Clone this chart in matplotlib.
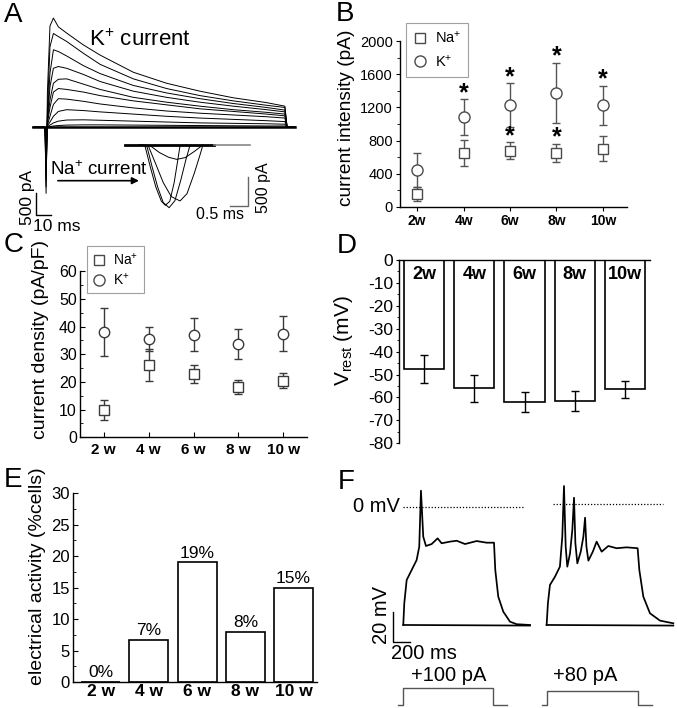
import matplotlib
matplotlib.use('Agg')
import matplotlib.pyplot as plt
import numpy as np
from matplotlib.lines import Line2D
from matplotlib.ticker import MultipleLocator

plt.rcParams['font.family'] = ['Liberation Sans', 'DejaVu Sans']
plt.rcParams['mathtext.fontset'] = 'custom'
plt.rcParams['mathtext.rm'] = 'Liberation Sans'
plt.rcParams['mathtext.it'] = 'Liberation Sans:italic'
plt.rcParams['mathtext.bf'] = 'Liberation Sans:bold'
plt.rcParams['axes.unicode_minus'] = False
plt.rcParams['axes.linewidth'] = 1.0

W, H = 677, 708

# ---------------- data ----------------
weeks = ['2w', '4w', '6w', '8w', '10w']
weeks_sp = ['2 w', '4 w', '6 w', '8 w', '10 w']

# B: current intensity (pA)
na_int = [150, 650, 677, 650, 702]
na_int_err = [85, 160, 100, 110, 155]
k_int = [443, 1085, 1230, 1375, 1225]
k_int_err = [210, 215, 263, 363, 240]
na_int_sig = [False, False, True, True, False]
k_int_sig = [False, True, True, True, True]

# C: current density (pA/pF)
na_dens = [9.9, 26.1, 23.0, 18.1, 20.5]
na_dens_err = [3.6, 5.9, 3.3, 2.6, 2.6]
k_dens = [38.0, 35.4, 37.1, 33.6, 37.5]
k_dens_err = [8.6, 4.3, 5.9, 5.4, 6.4]

# D: resting potential (mV)
vrest = [-47.5, -56.0, -62.0, -61.5, -56.5]
vrest_err = [6.0, 6.0, 4.5, 4.5, 3.7]

# E: electrical activity (% cells)
active_pct = [0, 6.7, 19, 8, 15]
active_lbl = ['0%', '7%', '19%', '8%', '15%']

# A: K+ current family (ms, pA)
k_t = [-7.8, 0, 0.7, 1.6, 3.3, 5.6, 8.9, 14.4, 25.6, 36.7, 58.9, 81.1,
       103.3, 125.6, 147.8, 160.0, 161.5, 166.7]
k_traces = [
    [0, 0, -1500, 800, 2300, 2480, 2280, 2140, 1870, 1640, 1250, 1000, 820, 670, 560, 480, 0, 0],
    [0, 0, -1350, 390, 1830, 2130, 2060, 1950, 1680, 1430, 1100, 880, 720, 600, 500, 450, 0, 0],
    [0, 0, -1200, 240, 1230, 1760, 1720, 1620, 1400, 1220, 950, 780, 650, 540, 450, 390, 0, 0],
    [0, 0, -1045, 170, 920, 1340, 1380, 1340, 1200, 1040, 820, 680, 570, 480, 400, 350, 0, 0],
    [0, 0, -890, 130, 620, 1000, 1090, 1100, 980, 860, 680, 570, 480, 400, 340, 300, 0, 0],
    [0, 0, -670, 90, 450, 800, 880, 860, 800, 720, 600, 510, 420, 360, 300, 260, 0, 0],
    [0, 0, -440, 50, 250, 520, 650, 640, 590, 530, 440, 370, 320, 280, 240, 210, 0, 0],
    [0, 0, -290, 30, 120, 250, 360, 400, 380, 350, 300, 250, 210, 180, 150, 130, 0, 0],
    [0, 0, -140, 15, 50, 100, 140, 165, 170, 160, 140, 120, 100, 90, 80, 70, 0, 0],
    [0, 0, -80, 5, 15, 30, 40, 50, 55, 55, 50, 45, 40, 35, 30, 30, 0, 0],
]

# A inset: Na+ currents (ms, pA)
na_tr_t = [
    [-0.14, 0, 0.15, 0.3, 0.45, 0.56, 0.68, 0.8, 0.9, 0.96, 1.14],
    [-0.14, 0.05, 0.2, 0.35, 0.5, 0.66, 0.82, 0.98, 1.12, 1.23],
    [-0.14, 0.09, 0.3, 0.5, 0.72, 0.96, 1.15, 1.35, 1.5, 1.58],
    [-0.14, 0.14, 0.4, 0.65, 0.87, 1.1, 1.35, 1.58],
]
na_tr_i = [
    [0, -10, -380, -720, -960, -1030, -960, -640, -250, -10, 0],
    [0, -10, -380, -720, -980, -1070, -950, -600, -250, -10],
    [0, -10, -330, -640, -880, -955, -830, -480, -180, -10],
    [0, -10, -130, -210, -245, -215, -110, 0],
]

# F: firing traces (ms from step onset, mV)
ap1_t = [0, 12, 40, 99, 157, 188, 208, 235, 267, 334, 404, 451, 549, 628, 726,
         863, 980, 1067, 1082, 1117, 1176, 1255, 1334, 1490]
ap1_v = [-78.9, -64.4, -48.9, -42.2, -35.6, -26.7, 10.7, -20.0, -26.2, -24.9,
         -21.1, -24.4, -23.3, -22.7, -24.9, -22.9, -24.0, -24.0, -42.2, -60.0,
         -70.0, -76.7, -78.4, -78.9]
ap2_t = [0, 15, 39, 98, 156, 184, 204, 224, 243, 275, 302, 322, 338, 361, 401,
         432, 452, 468, 491, 543, 588, 647, 725, 823, 941, 1070, 1090, 1137,
         1215, 1333, 1490]
ap2_v = [-78.9, -64.4, -52.2, -46.7, -40.0, -20.0, 13.8, -26.7, -40.0, -31.1,
         -15.5, 6.0, -24.4, -37.8, -30.0, -20.0, -7.3, -26.7, -36.0, -30.0,
         -23.3, -30.0, -26.2, -27.7, -27.1, -27.7, -42.2, -60.0, -71.1, -76.0,
         -77.8]
sub_t = [0, 1490]
sub_v = [-78.9, -79.3]
step_amp = [100, 80]
step_dur = [1058, 1070]
step_lbl = ['+100 pA', '+80 pA']
right_onset = 1686   # ms offset of second recording in the layout


def box(x0, y0, x1, y1):
    return [x0 / W, 1 - y1 / H, (x1 - x0) / W, (y1 - y0) / H]


fig = plt.figure(figsize=(W / 100, H / 100), dpi=100)

# ---------------- A ----------------
axA = fig.add_axes(box(5, 0, 300, 235))
axA.set_xlim(-26.7, 170.1)
axA.set_ylim(-2445, 2890)
axA.axis('off')
axA.plot([-7.8, 166.7], [0, 0], color='black', lw=1.8)
for tr in k_traces:
    axA.plot(k_t, tr, color='black', lw=0.7)
axA.plot([-6.0, -6.0, 4.0], [-1491, -1991, -1991], color='black', lw=1.0)
axA.text(7.7, -2256, '10 ms', fontsize=12.5, ha='center', va='center')
axA.text(-11.7, -1600, '500 pA', fontsize=12.5, ha='center', va='center', rotation=90)
axA.text(63.4, 1982, 'K$^{+}$ current', fontsize=16, ha='center', va='center')
axA.text(35.9, -1083, 'Na$^{+}$ current', fontsize=13.5, ha='center', va='baseline')
axA.annotate('', xy=(64.5, -1212), xytext=(6.7, -1212),
             arrowprops=dict(arrowstyle='-|>', color='black', lw=1.2,
                             mutation_scale=10))

axN = fig.add_axes(box(120, 130, 280, 225))
axN.set_xlim(-0.68, 3.69)
axN.set_ylim(-1365, 256)
axN.axis('off')
axN.plot([-0.55, 1.9], [0, 0], color='black', lw=2.0)
axN.plot([1.9, 2.87], [0, 0], color='#888888', lw=1.2)
for t, i in zip(na_tr_t, na_tr_i):
    axN.plot(t, i, color='black', lw=0.7)
axN.plot([2.32, 2.82, 2.82], [-1041, -1041, -541], color='#666666', lw=1.0)
axN.text(2.05, -1194, '0.5 ms', fontsize=11.5, ha='center', va='center')
axN.text(3.23, -734, '500 pA', fontsize=11.5, ha='center', va='center', rotation=90)

# ---------------- B ----------------
x = np.arange(5)
axB = fig.add_axes(box(400, 41.3, 627, 206.7))
axB.errorbar(x, na_int, yerr=na_int_err, fmt='s', ms=7, mfc='white', mec='#4a4a4a',
             mew=1.0, ecolor='#555555', elinewidth=1.0, capsize=3, capthick=1.0)
axB.errorbar(x, k_int, yerr=k_int_err, fmt='o', ms=8, mfc='white', mec='#4a4a4a',
             mew=1.0, ecolor='#555555', elinewidth=1.0, capsize=3, capthick=1.0)
for i in range(5):
    if k_int_sig[i]:
        axB.text(x[i], k_int[i] + k_int_err[i] - 10, '*', fontsize=18,
                 fontweight='bold', ha='center', va='baseline')
    if na_int_sig[i]:
        axB.text(x[i], na_int[i] + na_int_err[i] - 10, '*', fontsize=18,
                 fontweight='bold', ha='center', va='baseline')
axB.set_xlim(-0.37, 4.52)
axB.set_ylim(0, 2000)
axB.set_yticks([0, 400, 800, 1200, 1600, 2000])
axB.yaxis.set_minor_locator(MultipleLocator(200))
axB.set_xticks(x)
axB.set_xticklabels(weeks, fontweight='bold', fontsize=10)
axB.tick_params(axis='y', which='major', labelsize=10.5, length=3, pad=2)
axB.tick_params(axis='y', which='minor', length=2)
axB.tick_params(axis='x', length=3, pad=2)
axB.set_ylabel('current intensity (pA)', fontsize=13.8)
axB.yaxis.set_label_coords(-0.2, 0.535)
for s in ['top', 'right']:
    axB.spines[s].set_visible(False)
hB = [Line2D([], [], ls='none', marker='s', ms=7, mfc='white', mec='#4a4a4a'),
      Line2D([], [], ls='none', marker='o', ms=8, mfc='white', mec='#4a4a4a')]
legB = axB.legend(hB, ['Na$^{+}$', 'K$^{+}$'], loc='upper left',
                  bbox_to_anchor=(405.7 / W, 1 - 22.7 / H),
                  bbox_transform=fig.transFigure, fontsize=10.5, frameon=True,
                  fancybox=False, borderaxespad=0, handlelength=1.0,
                  handletextpad=0.5, labelspacing=0.5, borderpad=0.5)
legB.get_frame().set_edgecolor('#888888')
legB.get_frame().set_linewidth(0.8)

# ---------------- C ----------------
axC = fig.add_axes(box(80.3, 271.3, 306.7, 437.3))
axC.errorbar(x, na_dens, yerr=na_dens_err, fmt='s', ms=6.5, mfc='white', mec='#3a3a3a',
             mew=1.0, ecolor='#3a3a3a', elinewidth=1.0, capsize=3, capthick=1.0)
axC.errorbar(x, k_dens, yerr=k_dens_err, fmt='o', ms=7.5, mfc='white', mec='#3a3a3a',
             mew=1.0, ecolor='#3a3a3a', elinewidth=1.0, capsize=3, capthick=1.0)
axC.set_xlim(-0.52, 4.52)
axC.set_ylim(0, 60)
axC.set_yticks(np.arange(0, 61, 10))
axC.yaxis.set_minor_locator(MultipleLocator(5))
axC.set_xticks(x)
axC.set_xticklabels(weeks_sp, fontweight='bold', fontsize=11)
axC.tick_params(axis='y', which='both', direction='in', labelsize=11.5, pad=2.5)
axC.tick_params(axis='y', which='minor', length=2)
axC.tick_params(axis='x', direction='in', pad=4)
axC.set_ylabel('current density (pA/pF)', fontsize=14)
axC.yaxis.set_label_coords(-0.14, 0.59)
for s in ['top', 'right']:
    axC.spines[s].set_visible(False)
legC = axC.legend(hB, ['Na$^{+}$', 'K$^{+}$'], loc='upper left',
                  bbox_to_anchor=(86.7 / W, 1 - 246 / H),
                  bbox_transform=fig.transFigure, fontsize=10, frameon=True,
                  fancybox=False, borderaxespad=0, handlelength=1.0,
                  handletextpad=0.5, labelspacing=0.3, borderpad=0.4)
legC.get_frame().set_edgecolor('#888888')
legC.get_frame().set_linewidth(0.8)

# ---------------- D ----------------
axD = fig.add_axes(box(399, 260, 650, 443.3))
axD.bar(x, vrest, width=0.8, color='white', edgecolor='black', lw=1.2)
axD.errorbar(x, vrest, yerr=vrest_err, fmt='none', ecolor='black', elinewidth=1.0,
             capsize=3, capthick=1.0)
for i in range(5):
    axD.text(x[i], -6.5, weeks[i], fontsize=13, fontweight='bold',
             ha='center', va='center')
axD.set_xlim(-0.5, 4.5)
axD.set_ylim(-80, 0)
axD.set_yticks(np.arange(-80, 1, 10))
axD.yaxis.set_minor_locator(MultipleLocator(5))
axD.set_xticks([])
axD.tick_params(axis='y', which='major', labelsize=12.5, length=2.5, pad=1.5)
axD.tick_params(axis='y', which='minor', length=1.8)
axD.set_ylabel('V$_{\\mathrm{rest}}$ (mV)', fontsize=15)
axD.yaxis.set_label_coords(-0.175, 0.56)
for s in ['bottom', 'right']:
    axD.spines[s].set_visible(False)

# ---------------- E ----------------
axE = fig.add_axes(box(72.7, 493.3, 316.7, 682))
axE.bar(x, active_pct, width=0.81, color='white', edgecolor='black', lw=1.2)
for i in range(5):
    axE.text(x[i], active_pct[i] + 0.3, active_lbl[i], fontsize=12.5,
             ha='center', va='bottom')
axE.set_xlim(-0.58, 4.48)
axE.set_ylim(0, 30)
axE.set_yticks(np.arange(0, 31, 5))
axE.yaxis.set_minor_locator(MultipleLocator(2.5))
axE.set_xticks(x)
axE.set_xticklabels(weeks_sp, fontweight='bold', fontsize=12.5)
axE.tick_params(axis='y', which='both', direction='in', labelsize=12, pad=2)
axE.tick_params(axis='y', which='minor', length=2)
axE.tick_params(axis='x', length=0, pad=1.5)
axE.set_ylabel('electrical activity (%cells)', fontsize=14)
axE.yaxis.set_label_coords(-0.11, 0.56)
for s in ['top', 'right']:
    axE.spines[s].set_visible(False)

# ---------------- F ----------------
axF = fig.add_axes(box(340, 470, 677, 708))
axF.set_xlim(-744, 3219)
axF.set_ylim(-134.3, 24.5)
axF.axis('off')
axF.plot(ap1_t, ap1_v, color='black', lw=1.25)
axF.plot(sub_t, sub_v, color='black', lw=1.25)
axF.plot(np.array(ap2_t) + right_onset, ap2_v, color='black', lw=1.25)
axF.plot(np.array(sub_t) + right_onset, sub_v, color='black', lw=1.25)
axF.plot([0, 1411], [0, 0], color='black', lw=0.9, ls=(0, (1, 1.5)))
axF.plot([right_onset + 74, right_onset + 1368], [1.8, 1.8], color='black', lw=0.9,
         ls=(0, (1, 1.5)))
axF.text(-39, 0, '0 mV', fontsize=14.5, ha='right', va='center')
axF.plot([-125, -125, 75], [-70, -90, -90], color='black', lw=1.0)
axF.text(-254, -72, '20 mV', fontsize=14.5, ha='center', va='center', rotation=90)
axF.text(243, -97.8, '200 ms', fontsize=14.5, ha='center', va='center')
axF.text(529, -112.3, step_lbl[0], fontsize=14.5, ha='center', va='center')
axF.text(2145, -112.3, step_lbl[1], fontsize=14.5, ha='center', va='center')

axS = fig.add_axes(box(340, 680, 677, 708))
axS.set_xlim(-744, 3219)
axS.set_ylim(-17.6, 147)
axS.axis('off')
for onset, amp, dur, pre, post in zip([0, right_onset], step_amp, step_dur, [59, 59], [158, 165]):
    axS.plot([onset - pre, onset, onset, onset + dur, onset + dur, onset + dur + post],
             [0, 0, amp, amp, 0, 0], color='#555555', lw=1.0)

# panel letters
for lab, px, py in [('A', 4, 2), ('B', 336, 1), ('C', 4, 232), ('D', 337, 233),
                    ('E', 4, 467), ('F', 338, 469)]:
    fig.text(px / W, 1 - py / H, lab, fontsize=20, ha='left', va='top')

fig.savefig('out.png', dpi=100, facecolor='white')
